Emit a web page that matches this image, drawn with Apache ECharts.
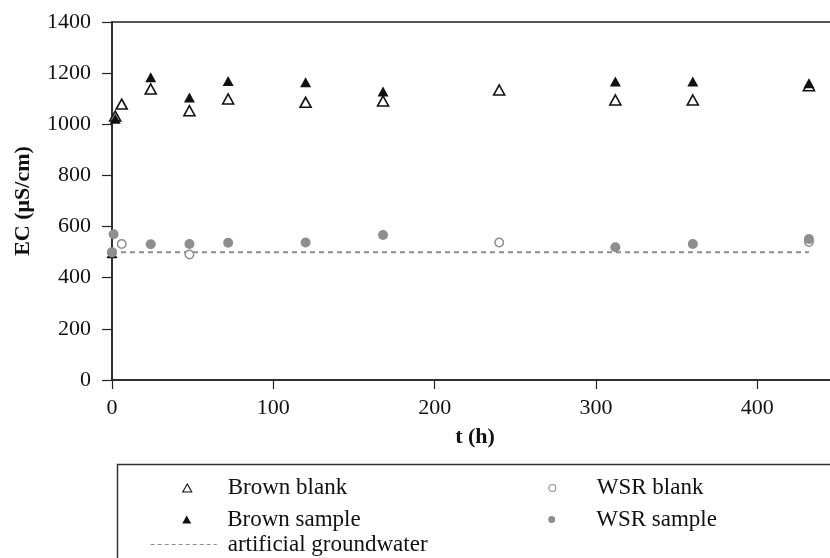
<!DOCTYPE html>
<html>
<head>
<meta charset="utf-8">
<script src="https://cdn.jsdelivr.net/npm/echarts@6/dist/echarts.min.js"></script>
<style>
  html, body { margin: 0; padding: 0; background: #fff; }
  #chart { width: 830px; height: 558px; }
</style>
</head>
<body>
<div id="chart"></div>
<script>
// Electrical conductivity over time (hours)
const brownBlankT   = [2, 6, 24, 48, 72, 120, 168, 240, 312, 360, 432];
const brownBlankEC  = [1032, 1079, 1138, 1053, 1099, 1086, 1091, 1134, 1095, 1095, 1151];

const brownSampleT  = [0, 2, 24, 48, 72, 120, 168, 312, 360, 432];
const brownSampleEC = [496, 1022, 1184, 1105, 1169, 1164, 1128, 1167, 1167, 1160];

const wsrBlankT     = [0, 6, 48, 240, 432];
const wsrBlankEC    = [500, 532, 491, 538, 540];

const wsrSampleT    = [0, 1, 24, 48, 72, 120, 168, 312, 360, 432];
const wsrSampleEC   = [499, 570, 531, 532, 537, 538, 567, 519, 532, 551];

const groundwaterT  = [0, 432];
const groundwaterEC = [500, 500];

const yTicks = [0, 200, 400, 600, 800, 1000, 1200, 1400];
const xTicks = [0, 100, 200, 300, 400];

const FONT = '"Liberation Serif", "Times New Roman", serif';
const INK = '#111';
const GREY = '#8e8e8e';

const pairs = (t, v) => t.map((x, i) => [x, v[i]]);

// dashed stroke used as the key icon of the reference line
function dashIconPath(len, dash, gap) {
  let d = '';
  for (let x = 0; x < len; x += dash + gap) {
    const w = Math.min(dash, len - x);
    d += 'M' + x + ',0h' + w + 'v1h-' + w + 'z';
  }
  return 'path://' + d;
}

const chart = echarts.init(document.getElementById('chart'), null, { renderer: 'canvas' });

// one legend block per entry so each can sit at its own spot in the key box
function legendItem(name, left, top, w, h, textGap, extra) {
  return Object.assign({
    data: [name],
    left: left,
    top: top,
    padding: 0,
    orient: 'vertical',
    itemWidth: w,
    itemHeight: h,
    selectedMode: false,
    textStyle: { fontFamily: FONT, fontSize: 23, color: INK, padding: [0, 0, 0, textGap] },
    itemStyle: { borderWidth: 1.1 }
  }, extra || {});
}

chart.setOption({
  animation: false,
  backgroundColor: '#fff',
  grid: {
    left: 112, top: 22, width: 726, height: 358,
    outerBoundsMode: 'none',
    containLabel: false,
    show: true, borderColor: '#222', borderWidth: 1.5, backgroundColor: 'transparent'
  },
  xAxis: {
    type: 'value',
    min: 0, max: 450, interval: 100,
    name: 't (h)',
    nameLocation: 'middle',
    nameGap: 46,
    nameMoveOverlap: false,
    nameTextStyle: { fontFamily: FONT, fontSize: 22, fontWeight: 'bold', color: INK },
    axisLine: { onZero: false, lineStyle: { color: '#222', width: 1.5 } },
    axisTick: { show: true, inside: false, length: 9, lineStyle: { color: '#222', width: 1.2 } },
    axisLabel: {
      fontFamily: FONT, fontSize: 22, color: INK, margin: 17,
      showMaxLabel: false,
      formatter: v => (xTicks.indexOf(v) >= 0 ? String(v) : '')
    },
    splitLine: { show: false }
  },
  yAxis: {
    type: 'value',
    min: 0, max: 1400, interval: 200,
    name: 'EC (μS/cm)',
    nameLocation: 'middle',
    nameGap: 78,
    nameMoveOverlap: false,
    nameTextStyle: { fontFamily: FONT, fontSize: 22, fontWeight: 'bold', color: INK },
    axisLine: { show: true, lineStyle: { color: '#222', width: 1.5 } },
    axisTick: { show: true, inside: false, length: 10, lineStyle: { color: '#222', width: 1.2 } },
    axisLabel: {
      fontFamily: FONT, fontSize: 22, color: INK, margin: 21,
      formatter: v => (yTicks.indexOf(v) >= 0 ? String(v) : '')
    },
    splitLine: { show: false }
  },
  legend: [
    legendItem('Brown blank', 182.2, 476.5, 9, 8, 31),
    legendItem('Brown sample', 182.2, 508, 9, 8, 31),
    legendItem('artificial groundwater', 150.7, 533, 66, 1, 6, {
      data: [{ name: 'artificial groundwater', icon: dashIconPath(66, 4, 3) }],
      symbolKeepAspect: false,
      itemStyle: { color: GREY, borderWidth: 0 }
    }),
    legendItem('WSR blank', 548.2, 476.5, 7, 7, 36),
    legendItem('WSR sample', 548.2, 508, 7, 7, 36)
  ],
  graphic: [
    {
      type: 'rect',
      silent: true,
      shape: { x: 117.5, y: 464.5, width: 800, height: 200 },
      style: { fill: 'none', stroke: '#333', lineWidth: 1.5 }
    }
  ],
  series: [
    {
      name: 'artificial groundwater',
      type: 'line',
      data: pairs(groundwaterT, groundwaterEC),
      symbol: 'none',
      z: 1,
      lineStyle: { color: GREY, width: 2, type: [5, 4] },
      itemStyle: { color: GREY },
      emphasis: { disabled: true },
      silent: true
    },
    {
      name: 'Brown blank',
      type: 'scatter',
      data: pairs(brownBlankT, brownBlankEC),
      symbol: 'triangle',
      symbolSize: [11, 10],
      z: 2,
      itemStyle: { color: '#fff', borderColor: INK, borderWidth: 1.6, opacity: 1 },
      emphasis: { disabled: true },
      silent: true
    },
    {
      name: 'Brown sample',
      type: 'scatter',
      data: pairs(brownSampleT, brownSampleEC),
      symbol: 'triangle',
      symbolSize: [11, 10],
      z: 3,
      itemStyle: { color: INK, opacity: 1 },
      emphasis: { disabled: true },
      silent: true
    },
    {
      name: 'WSR blank',
      type: 'scatter',
      data: pairs(wsrBlankT, wsrBlankEC),
      symbol: 'circle',
      symbolSize: 8.5,
      z: 4,
      itemStyle: { color: '#fff', borderColor: GREY, borderWidth: 1.5, opacity: 1 },
      emphasis: { disabled: true },
      silent: true
    },
    {
      name: 'WSR sample',
      type: 'scatter',
      data: pairs(wsrSampleT, wsrSampleEC),
      symbol: 'circle',
      symbolSize: 10,
      z: 5,
      itemStyle: { color: GREY, opacity: 1 },
      emphasis: { disabled: true },
      silent: true
    }
  ]
});
</script>
</body>
</html>
